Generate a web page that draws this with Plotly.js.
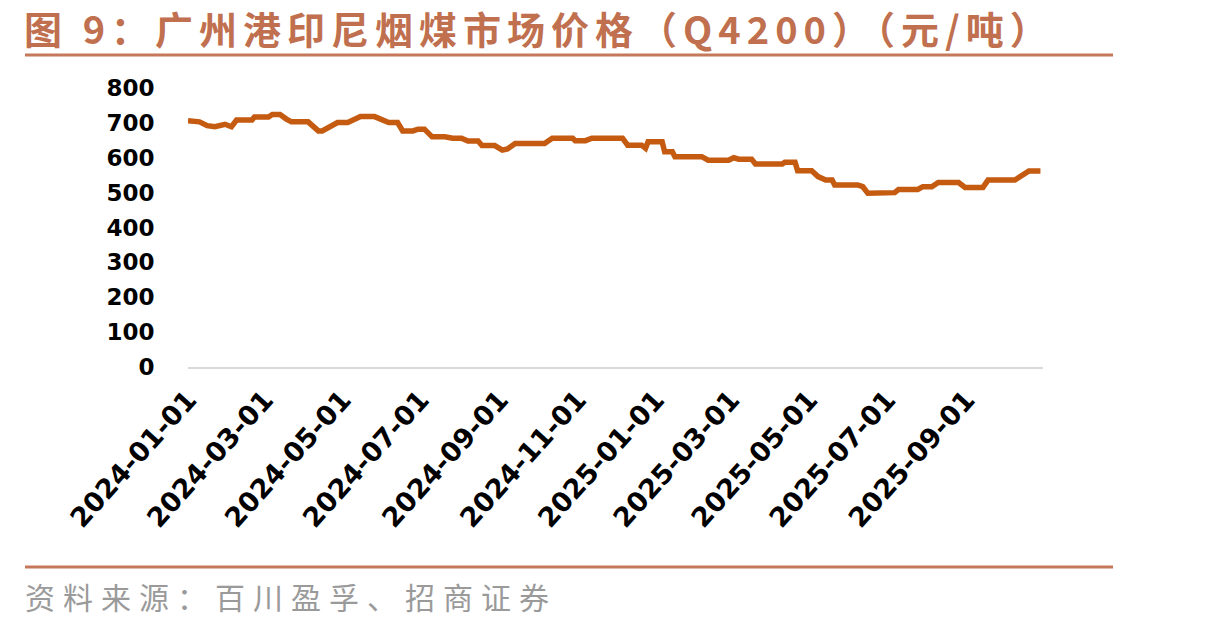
<!DOCTYPE html>
<html>
<head>
<meta charset="utf-8">
<script src="https://cdn.plot.ly/plotly-3.0.1.min.js"></script>
<style>
  html, body { margin: 0; padding: 0; background: #fff; }
  #chart { width: 1222px; height: 629px; }
  text.annotation-text[style*="font-size: 38px"] { letter-spacing: 6px; }
  text.annotation-text[style*="font-size: 30px"] { letter-spacing: 8px; }
</style>
</head>
<body>
<div id="chart"></div>
<script>
const titleText = "图 9：广州港印尼烟煤市场价格（Q4200）（元/吨）";
const sourceText = "资料来源：百川盈孚、招商证券";

const dates = [
  "2024-01-01","2024-01-10","2024-01-16","2024-01-22","2024-01-30","2024-02-04","2024-02-08","2024-02-20",
  "2024-02-22","2024-03-04","2024-03-07","2024-03-13","2024-03-18","2024-03-22","2024-04-04","2024-04-07",
  "2024-04-12","2024-04-15","2024-04-20","2024-04-27","2024-05-05","2024-05-11","2024-05-15","2024-05-26",
  "2024-05-30","2024-06-06","2024-06-13","2024-06-17","2024-06-25","2024-06-29","2024-07-04","2024-07-10",
  "2024-07-20","2024-07-26","2024-08-02","2024-08-07","2024-08-15","2024-08-18","2024-08-28","2024-09-03",
  "2024-09-07","2024-09-13","2024-10-06","2024-10-12","2024-10-28","2024-10-30","2024-11-07","2024-11-12",
  "2024-12-06","2024-12-10","2024-12-21","2024-12-24","2024-12-26","2025-01-06","2025-01-08","2025-01-14",
  "2025-01-16","2025-02-06","2025-02-11","2025-02-27","2025-03-03","2025-03-07","2025-03-17","2025-03-20",
  "2025-04-10","2025-04-12","2025-04-20","2025-04-22","2025-05-03","2025-05-08","2025-05-14","2025-05-19",
  "2025-05-21","2025-06-08","2025-06-12","2025-06-16","2025-07-07","2025-07-10","2025-07-25","2025-07-29",
  "2025-08-05","2025-08-10","2025-08-26","2025-08-31","2025-09-14","2025-09-18","2025-10-09","2025-10-15",
  "2025-10-20","2025-10-29"
];
const prices = [
  706,703,692,689,696,689,708,708,
  717,717,724,724,711,703,703,692,
  677,677,686,701,701,713,718,718,
  713,701,701,677,677,682,682,660,
  660,656,656,648,648,635,635,622,
  625,641,641,656,656,649,649,656,
  656,636,636,627,646,646,617,617,
  603,603,593,593,600,596,596,582,
  582,587,587,563,563,546,536,536,
  522,522,517,498,500,509,509,517,
  517,529,529,515,515,536,536,550,
  562,562
];
const yTicks = [0,100,200,300,400,500,600,700,800];

// plot area in pixels: x 188..1043, y 88..367
const L = 188, R = 1043, T = 88, B = 367;
const px = p => (p - L) / (R - L);
const py = p => (B - p) / (B - T);

const accent = "#C6785A";

const trace = {
  x: dates, y: prices, type: "scatter", mode: "lines",
  line: { color: "#C55A11", width: 5.5 },
  hoverinfo: "skip"
};

const layout = {
  width: 1222, height: 629,
  margin: { l: L, r: 1222 - R, t: T, b: 629 - B, pad: 0 },
  paper_bgcolor: "#fff", plot_bgcolor: "#fff",
  showlegend: false,
  xaxis: {
    type: "date",
    range: ["2024-01-01", "2025-10-31"],
    tick0: "2024-01-01", dtick: "M2",
    tickformat: "%Y-%m-%d",
    tickangle: -48,
    showgrid: false, zeroline: false,
    showline: true, linecolor: "#D9D9D9", linewidth: 2,
    ticks: "outside", ticklen: 4, tickcolor: "rgba(0,0,0,0)",
    tickfont: { family: "DejaVu Sans", size: 27, color: "#000", weight: "bold" },
    fixedrange: true
  },
  yaxis: {
    range: [0, 800],
    tickvals: yTicks, ticktext: yTicks.map(String),
    showgrid: false, zeroline: false, showline: false,
    ticks: "outside", ticklen: 28, tickcolor: "rgba(0,0,0,0)",
    tickfont: { family: "DejaVu Sans", size: 23, color: "#000", weight: "bold" },
    fixedrange: true
  },
  shapes: [
    { type: "line", xref: "paper", yref: "paper", x0: px(25), x1: px(1113), y0: py(55), y1: py(55),
      line: { color: accent, width: 3 } },
    { type: "line", xref: "paper", yref: "paper", x0: px(25), x1: px(1113), y0: py(567), y1: py(567),
      line: { color: accent, width: 3 } }
  ],
  annotations: [
    { text: titleText, xref: "paper", yref: "paper", x: px(22), y: py(27),
      xanchor: "left", yanchor: "middle", showarrow: false,
      font: { family: "Noto Sans CJK SC", size: 38, color: "#C0704F", weight: "bold" } },
    { text: sourceText, xref: "paper", yref: "paper", x: px(23), y: py(596),
      xanchor: "left", yanchor: "middle", showarrow: false,
      font: { family: "Noto Sans CJK SC", size: 30, color: "#9A9A9A" } }
  ]
};

Plotly.newPlot("chart", [trace], layout, { displayModeBar: false, staticPlot: true });
</script>
</body>
</html>
